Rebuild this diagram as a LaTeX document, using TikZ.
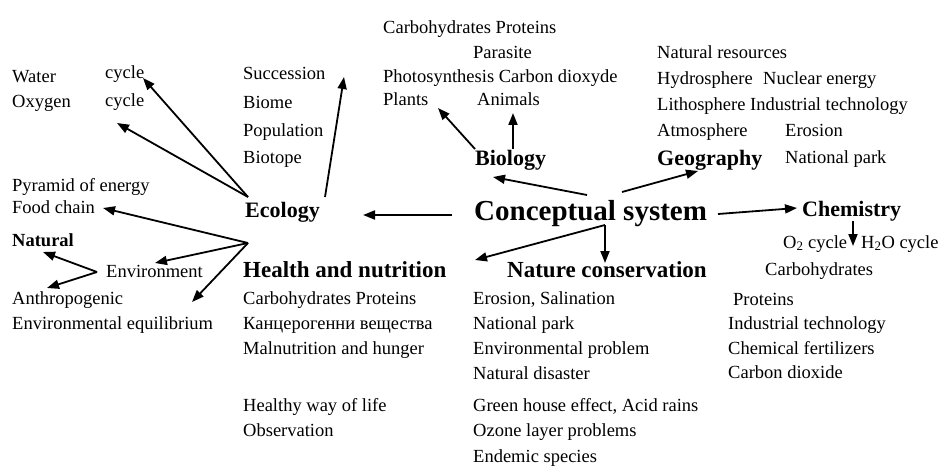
\documentclass[tikz,border=0pt]{standalone}
\usepackage{fontspec}
\setmainfont{Liberation Serif}
\usetikzlibrary{arrows.meta}
\tikzset{
  txt/.style={anchor=base west, inner sep=0pt, font=\fontsize{18.5}{22}\selectfont},
  hd/.style={anchor=base west, inner sep=0pt, font=\bfseries\fontsize{22}{26}\selectfont},
  hdw/.style={anchor=base west, inner sep=0pt, font=\bfseries\fontsize{23}{27}\selectfont},
  big/.style={anchor=base west, inner sep=0pt, font=\bfseries\fontsize{29}{34}\selectfont},
  arr/.style={-{Triangle[length=12pt,width=9pt]}, line width=1.8pt}
}
\begin{document}
\begin{tikzpicture}[x=1pt,y=-1pt]
\useasboundingbox (0,0) rectangle (940,468);
% left column
\node[txt] (water) at (12,83) {Water};
\node[txt] (cyc1) at (105,79) {cycle};
\node[txt] (oxy) at (12,108) {Oxygen};
\node[txt] (cyc2) at (105,107) {cycle};
\node[txt] (pyr) at (12,192) {Pyramid of energy};
\node[txt] (food) at (12,213) {Food chain};
\node[txt,font=\bfseries\fontsize{18.5}{22}\selectfont] (nat) at (12,246) {Natural};
\node[txt] (env) at (106,277) {Environment};
\node[txt] (anth) at (12,304) {Anthropogenic};
\node[txt] (eqb) at (12,329) {Environmental equilibrium};
% succession column
\node[txt] (succ) at (243,80) {Succession};
\node[txt] (biome) at (243,109) {Biome};
\node[txt] (popu) at (243,137) {Population};
\node[txt] (biot) at (243,164) {Biotope};
\node[hd] (eco) at (245,217) {Ecology};
% health
\node[hdw] (health) at (243,277) {Health and nutrition};
\node[txt] (h1) at (243,304) {Carbohydrates Proteins};
\node[txt] (h2) at (243,329) {Канцерогенни вещества};
\node[txt] (h3) at (243,354) {Malnutrition and hunger};
\node[txt] (h4) at (243,411) {Healthy way of life};
\node[txt] (h5) at (243,436) {Observation};
% biology
\node[txt] (b1) at (383,34) {Carbohydrates Proteins};
\node[txt] (b2) at (473,59) {Parasite};
\node[txt] (b3) at (383,83) {Photosynthesis Carbon dioxyde};
\node[txt] (plants) at (383,106) {Plants};
\node[txt] (animals) at (477,106) {Animals};
\node[hd] (bio) at (475,165) {Biology};
% geography
\node[txt] (g1) at (657,59) {Natural resources};
\node[txt] (g2) at (657,85) {Hydrosphere};
\node[txt] (g3) at (763,85) {Nuclear energy};
\node[txt] (g4) at (657,111) {Lithosphere Industrial technology};
\node[txt] (g5) at (657,137) {Atmosphere};
\node[txt] (g6) at (785,137) {Erosion};
\node[hd] (geo) at (657,165) {Geography};
\node[txt] (g7) at (785,164) {National park};
% center
\node[big] (cs) at (474,220) {Conceptual system};
% chemistry
\node[hd] (chem) at (802,216) {Chemistry};
\node[txt] (c1) at (783,248) {O\textsubscript{2} cycle};
\node[txt] (c2) at (861,248) {H\textsubscript{2}O cycle};
\node[txt] (c3) at (765,275) {Carbohydrates};
\node[txt] (c4) at (733,305) {Proteins};
\node[txt] (c5) at (728,329) {Industrial technology};
\node[txt] (c6) at (728,354) {Chemical fertilizers};
\node[txt] (c7) at (728,378) {Carbon dioxide};
% nature conservation
\node[hdw] (nc) at (507,277) {Nature conservation};
\node[txt] (n1) at (473,304) {Erosion, Salination};
\node[txt] (n2) at (473,329) {National park};
\node[txt] (n3) at (473,354) {Environmental problem};
\node[txt] (n4) at (473,379) {Natural disaster};
\node[txt] (n5) at (473,411) {Green house effect, Acid rains};
\node[txt] (n6) at (473,436) {Ozone layer problems};
\node[txt] (n7) at (473,462) {Endemic species};
% connector points
\coordinate (ecoL) at (248,197);
\coordinate (ecoR) at (325,197);
\coordinate (tWater) at (143,78);
\coordinate (tOxy) at (117,123);
\coordinate (tSucc) at (344,77);
\coordinate (fan) at (248,243);
\coordinate (tFood) at (103,208);
\coordinate (tEnv) at (155,263);
\coordinate (tLow) at (192,302);
\coordinate (envL) at (97,272);
\coordinate (tNat) at (43,252);
\coordinate (tAnth) at (47,288);
\coordinate (csL) at (452,215);
\coordinate (tEco) at (363,215);
\coordinate (csB) at (587,195);
\coordinate (tBio) at (493,177);
\coordinate (bioL) at (475,149);
\coordinate (tPlants) at (438,108);
\coordinate (bioM) at (513,149);
\coordinate (tAnimals) at (513,113);
\coordinate (csG) at (622,192);
\coordinate (tGeo) at (698,171);
\coordinate (csC) at (718,214);
\coordinate (tChem) at (797,208);
\coordinate (chemB) at (853,221);
\coordinate (tO2) at (853,246);
\coordinate (csJ) at (605,225);
\coordinate (tHealth) at (475,260);
\coordinate (tNC) at (605,263);
% connectors
\draw[arr] (ecoL) -- (tWater);
\draw[arr] (ecoL) -- (tOxy);
\draw[arr] (ecoR) -- (tSucc);
\draw[arr] (fan) -- (tFood);
\draw[arr] (fan) -- (tEnv);
\draw[arr] (fan) -- (tLow);
\draw[arr] (envL) -- (tNat);
\draw[arr] (envL) -- (tAnth);
\draw[arr] (csL) -- (tEco);
\draw[arr] (csB) -- (tBio);
\draw[arr] (bioL) -- (tPlants);
\draw[arr] (bioM) -- (tAnimals);
\draw[arr] (csG) -- (tGeo);
\draw[arr] (csC) -- (tChem);
\draw[arr] (chemB) -- (tO2);
\draw[arr] (csJ) -- (tHealth);
\draw[arr] (csJ) -- (tNC);
\end{tikzpicture}
\end{document}
